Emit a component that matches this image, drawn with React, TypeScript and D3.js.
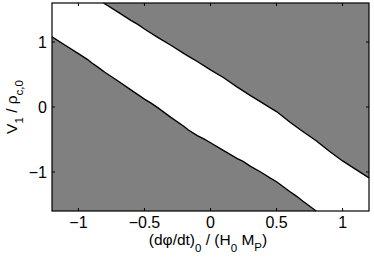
import React from 'react';
import * as d3 from 'd3';

// boundary of the white band
const lowerX = [-1.2, -1.1, -1.0, -0.93, -0.9, -0.85, -0.8, -0.7, -0.6, -0.5, -0.45, -0.4, -0.3, -0.2, -0.167, -0.1, -0.05, 0.0, 0.1, 0.2, 0.25, 0.3, 0.38, 0.45, 0.5, 0.6, 0.65, 0.7, 0.8];
const lowerY = [1.08, 0.95, 0.82, 0.73, 0.68, 0.61, 0.535, 0.40, 0.26, 0.12, 0.06, -0.01, -0.16, -0.30, -0.354, -0.44, -0.49, -0.55, -0.67, -0.79, -0.84, -0.91, -1.0, -1.09, -1.15, -1.3, -1.37, -1.45, -1.6];
const upperX = [-0.81, -0.7, -0.6, -0.55, -0.5, -0.4, -0.3, -0.2, -0.15, -0.1, 0.0, 0.1, 0.2, 0.3, 0.38, 0.45, 0.5, 0.6, 0.68, 0.8, 0.9, 1.0, 1.1, 1.2];
const upperY = [1.6, 1.46, 1.33, 1.27, 1.2, 1.07, 0.95, 0.82, 0.76, 0.70, 0.57, 0.45, 0.31, 0.18, 0.08, -0.01, -0.07, -0.23, -0.35, -0.52, -0.68, -0.83, -0.96, -1.09];

const xTicks = [-1, -0.5, 0, 0.5, 1];
const xTickLabels = ['\u22121', '\u22120.5', '0', '0.5', '1'];
const yTicks = [-1, 0, 1];
const yTickLabels = ['\u22121', '0', '1'];

const width = 374;
const height = 258;
const margin = { top: 3, right: 5, bottom: 47, left: 52 };

export default function App() {
  const x = d3.scaleLinear().domain([-1.2, 1.2]).range([margin.left, width - margin.right]);
  const y = d3.scaleLinear().domain([-1.6, 1.6]).range([height - margin.bottom, margin.top]);

  const lower = lowerX.map((v, i) => [v, lowerY[i]] as [number, number]);
  const upper = upperX.map((v, i) => [v, upperY[i]] as [number, number]);

  const line = d3.line<[number, number]>().x(d => x(d[0])).y(d => y(d[1]));

  // gray regions: below the lower boundary and above the upper one
  const lowerRegion = [...lower, [-1.2, -1.6] as [number, number]];
  const upperRegion = [...upper, [1.2, 1.6] as [number, number]];

  const x0 = x(-1.2), x1 = x(1.2), y0 = y(-1.6), y1 = y(1.6);
  const font = '"Liberation Sans", Arial, sans-serif';

  return (
    <svg width={width} height={height} style={{ position: 'absolute', left: 0, top: 0, background: '#fff' }}>
      <path d={line(lowerRegion) + 'Z'} fill="#808080" />
      <path d={line(upperRegion) + 'Z'} fill="#808080" />
      <path d={line(lower) || ''} fill="none" stroke="#000" strokeWidth={1.4} />
      <path d={line(upper) || ''} fill="none" stroke="#000" strokeWidth={1.4} />

      {/* box and ticks */}
      <rect x={x0} y={y1} width={x1 - x0} height={y0 - y1} fill="none" stroke="#000" strokeWidth={1.2} />
      {xTicks.map(t => (
        <g key={'xt' + t}>
          <line x1={x(t)} x2={x(t)} y1={y0} y2={y0 - 3} stroke="#000" />
          <line x1={x(t)} x2={x(t)} y1={y1} y2={y1 + 3} stroke="#000" />
        </g>
      ))}
      {yTicks.map(t => (
        <g key={'yt' + t}>
          <line x1={x0} x2={x0 + 3} y1={y(t)} y2={y(t)} stroke="#000" />
          <line x1={x1} x2={x1 - 3} y1={y(t)} y2={y(t)} stroke="#000" />
        </g>
      ))}

      <g fontFamily={font} fontSize={16} fill="#000">
        {xTicks.map((t, i) => (
          <text key={'xl' + t} x={x(t)} y={228} textAnchor="middle">{xTickLabels[i]}</text>
        ))}
        {yTicks.map((t, i) => (
          <text key={'yl' + t} x={x0 - 5} y={y(t) + 6} textAnchor="end">{yTickLabels[i]}</text>
        ))}

        <text x={208} y={245} textAnchor="middle" fontSize={15.5}>
          <tspan>(dφ/dt)</tspan>
          <tspan fontSize={11.5} dy={7}>0</tspan>
          <tspan dy={-7}> / (H</tspan>
          <tspan fontSize={11.5} dy={7}>0</tspan>
          <tspan dy={-7}> M</tspan>
          <tspan fontSize={11.5} dy={6}>P</tspan>
          <tspan dy={-6}>)</tspan>
        </text>

        <text transform="translate(17,107) rotate(-90)" textAnchor="middle" fontSize={15.5}>
          <tspan>V</tspan>
          <tspan fontSize={11.5} dy={6}>1</tspan>
          <tspan dy={-6}> / ρ</tspan>
          <tspan fontSize={11.5} dy={6}>c,0</tspan>
        </text>
      </g>
    </svg>
  );
}
